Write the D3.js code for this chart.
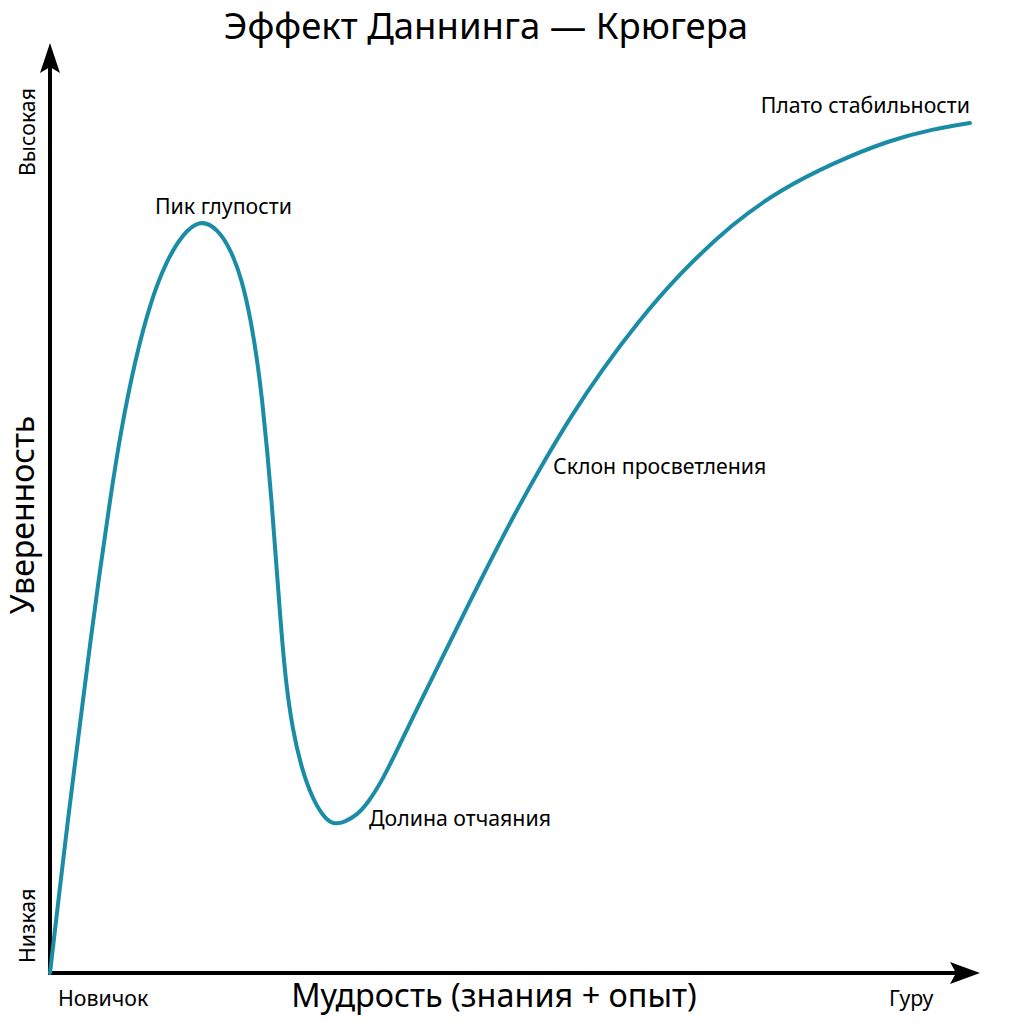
<!DOCTYPE html>
<html>
<head>
<meta charset="utf-8">
<script src="https://cdn.jsdelivr.net/npm/d3@7"></script>
<style>
  html, body { margin: 0; padding: 0; background: #fff; }
  svg { display: block; font-family: "Noto Sans", "Open Sans", sans-serif; }
</style>
</head>
<body>
<svg id="chart" width="1024" height="1024"></svg>
<script>
// Data (0–100 units on both axes)
const skill = [0, 0.91, 1.94, 3.01, 4.09, 5.22, 6.45, 7.63, 9.14, 10.86, 12.58, 14.19, 16.13,
  18.06, 19.46, 20.65, 21.59, 22.28, 22.82, 23.35, 23.82, 24.30, 24.78, 25.32, 26.08, 27.10,
  28.17, 29.25, 30.43, 31.72, 33.01, 34.19, 35.81, 37.42, 39.03, 42.80, 46.24, 50.0, 53.01,
  56.24, 59.35, 63.12, 67.74, 73.44, 78.49, 84.19, 90.32, 94.95, 98.92];
const confidence = [0, 7.85, 16.61, 25.05, 33.66, 42.26, 50.86, 58.39, 65.91, 72.37, 76.67, 79.35, 81.08,
  80.0, 77.74, 74.52, 70.22, 65.91, 61.61, 56.24, 50.86, 44.41, 37.96, 31.51, 26.13, 21.83,
  18.92, 16.99, 15.91, 16.24, 16.99, 18.28, 20.86, 24.19, 27.53, 35.16, 42.15, 49.46, 54.84,
  60.22, 64.84, 69.89, 75.27, 80.65, 84.19, 87.10, 89.57, 90.75, 91.40];

const stageLabels = ["Пик глупости", "Долина отчаяния", "Склон просветления", "Плато стабильности"];
const stageX = [11.29, 34.3, 54.09, 98.92];
const stageY = [81.61, 15.81, 53.66, 92.47];
const stageAnchor = ["start", "start", "start", "end"];

const xTickLabels = ["Новичок", "Гуру"];
const yTickLabels = ["Низкая", "Высокая"];

const title = "Эффект Даннинга — Крюгера";
const xTitle = "Мудрость (знания + опыт)";
const yTitle = "Уверенность";

const svg = d3.select("#chart");
const x = d3.scaleLinear().domain([0, 100]).range([50, 980]);
const y = d3.scaleLinear().domain([0, 100]).range([973, 43]);

// Axes
const axisW = 4;
svg.append("line")
  .attr("x1", x(0) - axisW / 2).attr("x2", x(100) - 20)
  .attr("y1", y(0)).attr("y2", y(0))
  .attr("stroke", "#000").attr("stroke-width", axisW);
svg.append("line")
  .attr("x1", x(0)).attr("x2", x(0))
  .attr("y1", y(0) + axisW / 2).attr("y2", y(100) + 20)
  .attr("stroke", "#000").attr("stroke-width", axisW);

// Arrowheads
svg.append("path")
  .attr("d", `M${x(100)},${y(0)} L${x(100) - 30},${y(0) - 11} L${x(100) - 24},${y(0)} L${x(100) - 30},${y(0) + 11} Z`)
  .attr("fill", "#000");
svg.append("path")
  .attr("d", `M${x(0)},${y(100)} L${x(0) - 10},${y(100) + 30} L${x(0)},${y(100) + 24} L${x(0) + 10},${y(100) + 30} Z`)
  .attr("fill", "#000");

// Curve
const pts = skill.map((s, i) => [s, confidence[i]]);
const line = d3.line().x(d => x(d[0])).y(d => y(d[1])).curve(d3.curveBasis);
svg.append("path")
  .datum(pts)
  .attr("d", line)
  .attr("fill", "none")
  .attr("stroke", "#1a8ca5")
  .attr("stroke-width", 4)
  .attr("stroke-linecap", "round")
  .attr("stroke-linejoin", "round");

// Stage labels
svg.selectAll(".stage")
  .data(stageLabels)
  .enter().append("text")
  .attr("class", "stage")
  .attr("x", (d, i) => x(stageX[i]))
  .attr("y", (d, i) => y(stageY[i]))
  .attr("text-anchor", (d, i) => stageAnchor[i])
  .attr("font-size", 21.3)
  .attr("fill", "#000")
  .text(d => d);

// Title
svg.append("text")
  .attr("x", 486).attr("y", 39)
  .attr("text-anchor", "middle")
  .attr("font-size", 36.5)
  .text(title);

// X labels
svg.append("text")
  .attr("x", x(0) + 8).attr("y", 1006)
  .attr("font-size", 21.3)
  .text(xTickLabels[0]);
svg.append("text")
  .attr("x", x(92.6)).attr("y", 1006)
  .attr("text-anchor", "middle")
  .attr("font-size", 21.3)
  .text(xTickLabels[1]);
svg.append("text")
  .attr("x", 494).attr("y", 1007)
  .attr("text-anchor", "middle")
  .attr("font-size", 32.4)
  .text(xTitle);

// Y labels (rotated)
svg.append("text")
  .attr("transform", `translate(35, ${y(0) - 10}) rotate(-90)`)
  .attr("text-anchor", "start")
  .attr("font-size", 21.3)
  .text(yTickLabels[0]);
svg.append("text")
  .attr("transform", `translate(35, 88) rotate(-90)`)
  .attr("text-anchor", "end")
  .attr("font-size", 21.3)
  .text(yTickLabels[1]);
svg.append("text")
  .attr("transform", `translate(34, 515) rotate(-90)`)
  .attr("text-anchor", "middle")
  .attr("font-size", 32)
  .text(yTitle);
</script>
</body>
</html>
